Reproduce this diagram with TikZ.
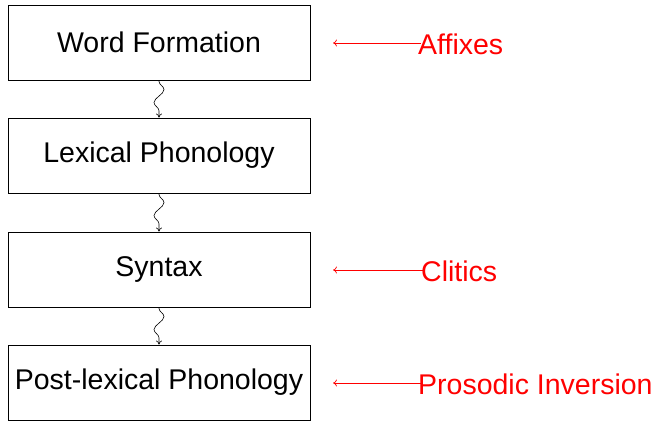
\documentclass[tikz,border=0pt]{standalone}
\usepackage{fontspec}
\setmainfont{Liberation Sans}
\usetikzlibrary{decorations.pathmorphing,arrows.meta}
\begin{document}
\begin{tikzpicture}[x=1pt,y=1pt,
  stagebox/.style={draw, line width=0.9pt, minimum width=302pt, minimum height=75pt, inner sep=0pt, font=\fontsize{28.5}{32}\selectfont},
  tag/.style={text=red, anchor=west, inner sep=0pt, font=\fontsize{28.5}{32}\selectfont},
  squig/.style={->, >={To[length=4pt,width=6pt]}, line width=0.6pt, decorate, decoration={snake, amplitude=5pt, segment length=26pt, pre length=1pt, post length=4pt}},
  redarrow/.style={red, line width=0.7pt, ->, >={To[length=4pt,width=7pt]}}]
\useasboundingbox (0,0) rectangle (658,-420);
\node[stagebox] (wf) at (159,-42.5) {Word Formation};
\node[stagebox] (lp) at (159,-155.5) {Lexical Phonology};
\node[stagebox] (sx) at (159,-269.5) {Syntax};
\node[stagebox] (pl) at (159,-382.5) {Post-lexical Phonology};
\draw[squig] (wf.south) -- (lp.north);
\draw[squig] (lp.south) -- (sx.north);
\draw[squig] (sx.south) -- (pl.north);
\node[tag] (af) at (418,-44) {Affixes};
\node[tag] (cl) at (421,-271) {Clitics};
\node[tag] (pi) at (418,-384) {Prosodic Inversion};
\coordinate (afe) at (333,-43);
\coordinate (cle) at (333,-270);
\coordinate (pie) at (333,-383);
\draw[redarrow] ([xshift=3pt,yshift=1pt]af.west) -- (afe);
\draw[redarrow] ([xshift=3pt,yshift=1pt]cl.west) -- (cle);
\draw[redarrow] ([xshift=3pt,yshift=1pt]pi.west) -- (pie);
\end{tikzpicture}
\end{document}
